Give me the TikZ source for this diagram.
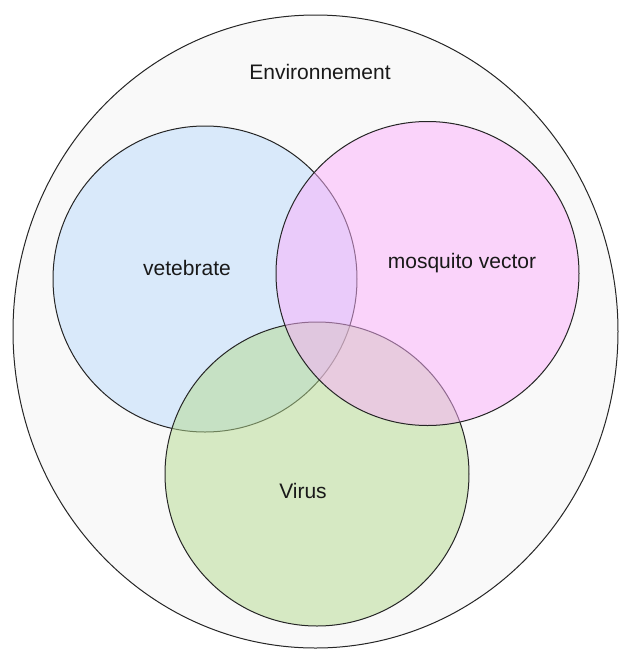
\documentclass[tikz,border=0pt]{standalone}
\usepackage{fontspec}
\setmainfont{Liberation Sans}
\definecolor{envfill}{HTML}{F9F9F9}
\definecolor{bluefill}{RGB}{187,219,251}
\definecolor{pinkfill}{RGB}{251,175,251}
\definecolor{greenfill}{RGB}{181,219,143}
\tikzset{
  setc/.style={draw=black!85, line width=1pt, fill opacity=0.5},
  lbl/.style={font=\fontsize{21}{25}\selectfont, text=black!90},
}
\begin{document}
\begin{tikzpicture}[x=1pt,y=-1pt]
\useasboundingbox (0,0) rectangle (619,649);
\draw[line width=1pt, draw=black!85, fill=envfill] (315.5,331.5) ellipse [x radius=302.5, y radius=316.5];
\node[lbl] (env) at (320,72) {Environnement};
\path[setc, fill=bluefill] (205,279) ellipse [x radius=152, y radius=153];
\path[setc, fill=greenfill] (317,474) ellipse [x radius=152, y radius=152];
\path[setc, fill=pinkfill] (427.5,273.5) ellipse [x radius=151.5, y radius=152];
\node[lbl] (vert) at (187,268) {vetebrate};
\node[lbl] (mosq) at (462,263) {mosquito vector};
\node[lbl] (virus) at (303,491) {Virus};
\end{tikzpicture}
\end{document}
